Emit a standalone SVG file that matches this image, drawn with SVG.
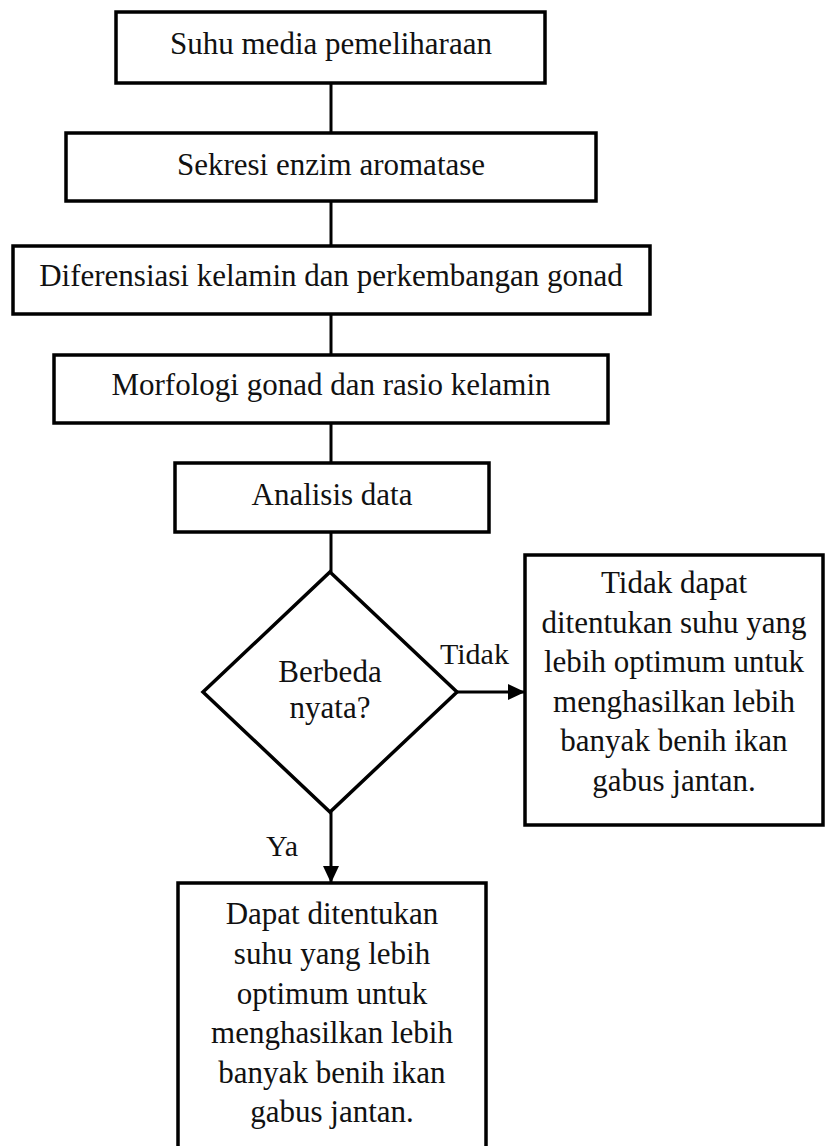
<svg xmlns="http://www.w3.org/2000/svg" width="826" height="1146" viewBox="0 0 826 1146">
<style>
.box{fill:#fff;stroke:#000;stroke-width:3.5}
.t{font-family:"Liberation Serif","Times New Roman",serif;font-size:31px;fill:#111;text-anchor:middle}
.lbl{font-family:"Liberation Serif","Times New Roman",serif;font-size:30px;fill:#111}
.c{stroke:#000;stroke-width:3;fill:none}
</style>
<defs>
<marker id="ah" markerUnits="userSpaceOnUse" markerWidth="17" markerHeight="16" refX="17" refY="8" orient="auto">
<path d="M0,0 L17,8 L0,16 Z" fill="#000"/>
</marker>
</defs>
<rect width="826" height="1146" fill="#fff"/>
<g id="connectors">
<line class="c" x1="331" y1="83" x2="331" y2="133"/>
<line class="c" x1="331" y1="201" x2="331" y2="246"/>
<line class="c" x1="331" y1="314" x2="331" y2="355"/>
<line class="c" x1="331" y1="423" x2="331" y2="463"/>
<line class="c" x1="331" y1="532" x2="331" y2="572"/>
<line class="c" x1="457" y1="692" x2="525" y2="692" marker-end="url(#ah)"/>
<line class="c" x1="331" y1="812" x2="331" y2="883" marker-end="url(#ah)"/>
<text class="lbl" x="440" y="664">Tidak</text>
<text class="lbl" x="266" y="856">Ya</text>
</g>
<g id="n1">
<rect class="box" x="116" y="12" width="429" height="71"/>
<text class="t" x="331" y="54">Suhu media pemeliharaan</text>
</g>
<g id="n2">
<rect class="box" x="66" y="133" width="530" height="68"/>
<text class="t" x="331" y="175">Sekresi enzim aromatase</text>
</g>
<g id="n3">
<rect class="box" x="13" y="246" width="637" height="68"/>
<text class="t" x="331" y="286">Diferensiasi kelamin dan perkembangan gonad</text>
</g>
<g id="n4">
<rect class="box" x="54" y="355" width="554" height="68"/>
<text class="t" x="331" y="395">Morfologi gonad dan rasio kelamin</text>
</g>
<g id="n5">
<rect class="box" x="175" y="463" width="314" height="69"/>
<text class="t" x="332" y="505">Analisis data</text>
</g>
<g id="n6">
<polygon class="box" points="330,572 457,692 330,812 203,692"/>
<text class="t" x="330" y="682">Berbeda</text>
<text class="t" x="330" y="718">nyata?</text>
</g>
<g id="n7">
<rect class="box" x="525" y="555" width="298" height="270"/>
<text class="t" x="674" y="593">Tidak dapat</text>
<text class="t" x="674" y="633">ditentukan suhu yang</text>
<text class="t" x="674" y="672">lebih optimum untuk</text>
<text class="t" x="674" y="712">menghasilkan lebih</text>
<text class="t" x="674" y="751">banyak benih ikan</text>
<text class="t" x="674" y="791">gabus jantan.</text>
</g>
<g id="n8">
<rect class="box" x="178" y="883" width="308" height="280"/>
<text class="t" x="332" y="924">Dapat ditentukan</text>
<text class="t" x="332" y="964">suhu yang lebih</text>
<text class="t" x="332" y="1004">optimum untuk</text>
<text class="t" x="332" y="1043">menghasilkan lebih</text>
<text class="t" x="332" y="1083">banyak benih ikan</text>
<text class="t" x="332" y="1122">gabus jantan.</text>
</g>
</svg>
